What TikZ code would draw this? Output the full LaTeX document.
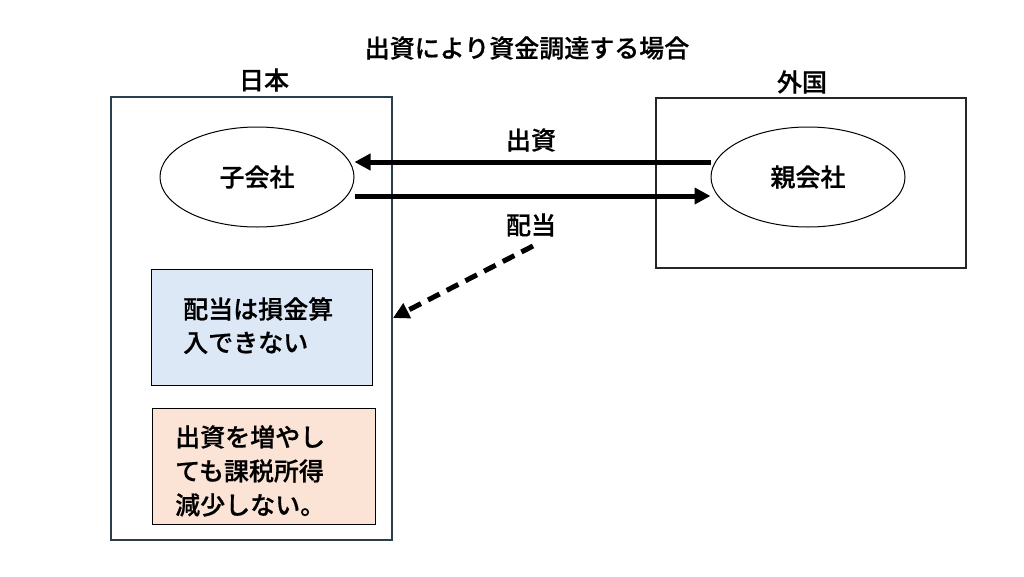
\documentclass[tikz,border=0pt]{standalone}
\usepackage{fontspec}
\setmainfont{Noto Sans CJK JP Medium}[AutoFakeBold=0.6]
\usetikzlibrary{arrows.meta,shapes.geometric}
\definecolor{jpframe}{RGB}{43,62,76}
\definecolor{bluefill}{RGB}{221,232,246}
\definecolor{orangefill}{RGB}{251,227,214}
\begin{document}
\begin{tikzpicture}[x=1pt,y=-1pt,
  lbl/.style={font=\fontsize{25}{30}\selectfont\bfseries, inner sep=0pt},
  frame/.style={draw, line width=1.5pt},
  corp/.style={draw, ellipse, line width=1pt, minimum width=194pt, minimum height=100pt, font=\fontsize{25}{30}\selectfont\bfseries},
  note/.style={draw, line width=1.2pt, anchor=north west, inner sep=0pt},
  thick arrow/.style={line width=5pt, -{Triangle[length=16pt,width=16pt]}},
]
\useasboundingbox (0,0) rectangle (1024,576);
\node[lbl] (title) at (527,48) {出資により資金調達する場合};
\node[lbl] (jpl) at (264,80) {日本};
\node[lbl] (fgl) at (802,82) {外国};
\draw[frame, draw=jpframe] (111,97) rectangle (392,540);
\draw[frame, draw=black!85] (656,98) rectangle (966,268);
\coordinate (jpr) at (393,318);
\node[corp] (sub) at (257,177) {子会社};
\node[corp] (par) at (808,177) {親会社};
\draw[thick arrow] (par.west |- 0,162) -- (sub.east |- 0,162);
\draw[thick arrow] (sub.east |- 0,196) -- (par.west |- 0,196);
\node[lbl] (inv) at (531,140) {出資};
\node[lbl] (div) at (531,225) {配当};
\coordinate (dstart) at (533,246);
\draw[line width=5pt, dash pattern=on 13pt off 8pt, -{Triangle[length=16pt,width=16pt]}] (dstart) -- (jpr);
\node[note, fill=bluefill, minimum width=221pt, minimum height=116pt] (n1) at (151,269) {};
\node[lbl, anchor=north west, align=left, font=\fontsize{25}{33.5}\selectfont\bfseries] (t1) at (183,297) {配当は損金算\\入できない};
\node[note, fill=orangefill, minimum width=223pt, minimum height=116pt] (n2) at (152,408) {};
\node[lbl, anchor=north west, align=left, font=\fontsize{25}{34}\selectfont\bfseries] (t2) at (175,425) {出資を増やし\\ても課税所得\\減少しない。};
\end{tikzpicture}
\end{document}
